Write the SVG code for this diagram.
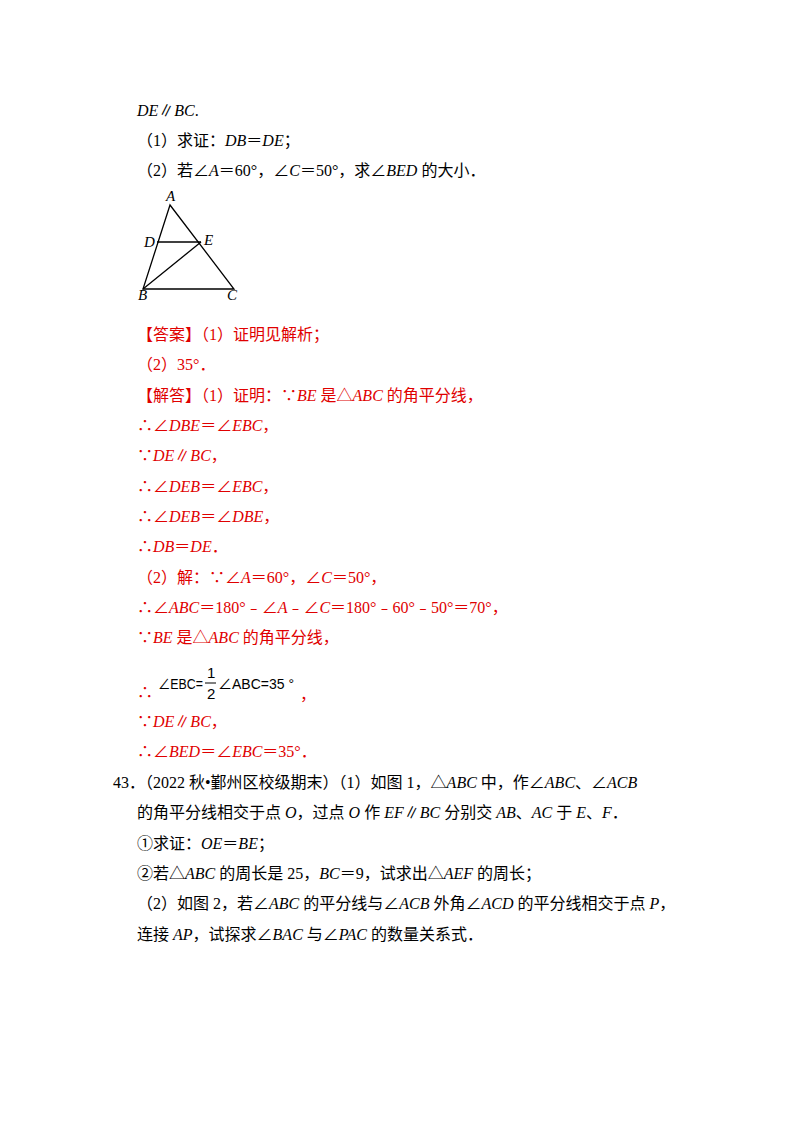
<svg xmlns="http://www.w3.org/2000/svg" width="800" height="1132" viewBox="0 0 800 1132">
<style>
text{font-family:"Liberation Serif","Noto Sans CJK SC",serif;font-size:16px;fill:#000}
.r{fill:#e00000}
.lb{font-style:italic;font-size:15px}
.s{font-family:"Liberation Sans","Noto Sans CJK SC",sans-serif;font-size:15px}
</style>
<rect width="800" height="1132" fill="#fff"/>
<text x="137" y="116"><tspan font-style="italic">DE</tspan>∥<tspan font-style="italic">BC</tspan>.</text>
<text x="137" y="146">（1）求证：<tspan font-style="italic">DB</tspan>＝<tspan font-style="italic">DE</tspan>；</text>
<text x="137" y="176">（2）若∠<tspan font-style="italic">A</tspan>＝60°，∠<tspan font-style="italic">C</tspan>＝50°，求∠<tspan font-style="italic">BED</tspan> 的大小．</text>
<g id="figure" stroke="#000" stroke-width="1.3" fill="none">
<polygon points="170,205 143,289 234,289"/>
<line x1="157" y1="242" x2="201" y2="242"/>
<line x1="143" y1="289" x2="201" y2="242"/>
</g>
<text class="lb" x="166" y="201">A</text>
<text class="lb" x="144" y="247">D</text>
<text class="lb" x="204" y="245">E</text>
<text class="lb" x="138" y="300">B</text>
<text class="lb" x="227" y="300">C</text>
<text class="r" x="137" y="340">【答案】（1）证明见解析；</text>
<text class="r" x="137" y="370">（2）35°．</text>
<text class="r" x="137" y="401">【解答】（1）证明：∵<tspan font-style="italic">BE</tspan> 是△<tspan font-style="italic">ABC</tspan> 的角平分线，</text>
<text class="r" x="137" y="431">∴∠<tspan font-style="italic">DBE</tspan>＝∠<tspan font-style="italic">EBC</tspan>，</text>
<text class="r" x="137" y="461">∵<tspan font-style="italic">DE</tspan>∥<tspan font-style="italic">BC</tspan>，</text>
<text class="r" x="137" y="492">∴∠<tspan font-style="italic">DEB</tspan>＝∠<tspan font-style="italic">EBC</tspan>，</text>
<text class="r" x="137" y="522">∴∠<tspan font-style="italic">DEB</tspan>＝∠<tspan font-style="italic">DBE</tspan>，</text>
<text class="r" x="137" y="552">∴<tspan font-style="italic">DB</tspan>＝<tspan font-style="italic">DE</tspan>．</text>
<text class="r" x="137" y="583">（2）解：∵∠<tspan font-style="italic">A</tspan>＝60°，∠<tspan font-style="italic">C</tspan>＝50°，</text>
<text class="r" x="137" y="613">∴∠<tspan font-style="italic">ABC</tspan>＝180°﹣∠<tspan font-style="italic">A</tspan>﹣∠<tspan font-style="italic">C</tspan>＝180°﹣60°﹣50°＝70°，</text>
<text class="r" x="137" y="643">∵<tspan font-style="italic">BE</tspan> 是△<tspan font-style="italic">ABC</tspan> 的角平分线，</text>
<text class="r" x="137" y="698">∴</text>
<text class="s" x="158" y="689" textLength="45" lengthAdjust="spacingAndGlyphs">∠EBC=</text>
<text class="s" x="207" y="678">1</text>
<line x1="205" y1="683" x2="216" y2="683" stroke="#000" stroke-width="1"/>
<text class="s" x="207" y="699">2</text>
<text class="s" x="218" y="689" textLength="76" lengthAdjust="spacingAndGlyphs">∠ABC=35 °</text>
<text class="r" x="300" y="700">，</text>
<text class="r" x="137" y="727">∵<tspan font-style="italic">DE</tspan>∥<tspan font-style="italic">BC</tspan>，</text>
<text class="r" x="137" y="757">∴∠<tspan font-style="italic">BED</tspan>＝∠<tspan font-style="italic">EBC</tspan>＝35°．</text>
<text x="113" y="788">43．（2022 秋•鄞州区校级期末）（1）如图 1，△<tspan font-style="italic">ABC</tspan> 中，作∠<tspan font-style="italic">ABC</tspan>、∠<tspan font-style="italic">ACB</tspan></text>
<text x="137" y="818">的角平分线相交于点 <tspan font-style="italic">O</tspan>，过点 <tspan font-style="italic">O</tspan> 作 <tspan font-style="italic">EF</tspan>∥<tspan font-style="italic">BC</tspan> 分别交 <tspan font-style="italic">AB</tspan>、<tspan font-style="italic">AC</tspan> 于 <tspan font-style="italic">E</tspan>、<tspan font-style="italic">F</tspan>．</text>
<text x="137" y="849">①求证：<tspan font-style="italic">OE</tspan>＝<tspan font-style="italic">BE</tspan>；</text>
<text x="137" y="879">②若△<tspan font-style="italic">ABC</tspan> 的周长是 25，<tspan font-style="italic">BC</tspan>＝9，试求出△<tspan font-style="italic">AEF</tspan> 的周长；</text>
<text x="137" y="909">（2）如图 2，若∠<tspan font-style="italic">ABC</tspan> 的平分线与∠<tspan font-style="italic">ACB</tspan> 外角∠<tspan font-style="italic">ACD</tspan> 的平分线相交于点 <tspan font-style="italic">P</tspan>，</text>
<text x="137" y="940">连接 <tspan font-style="italic">AP</tspan>，试探求∠<tspan font-style="italic">BAC</tspan> 与∠<tspan font-style="italic">PAC</tspan> 的数量关系式．</text>
</svg>
